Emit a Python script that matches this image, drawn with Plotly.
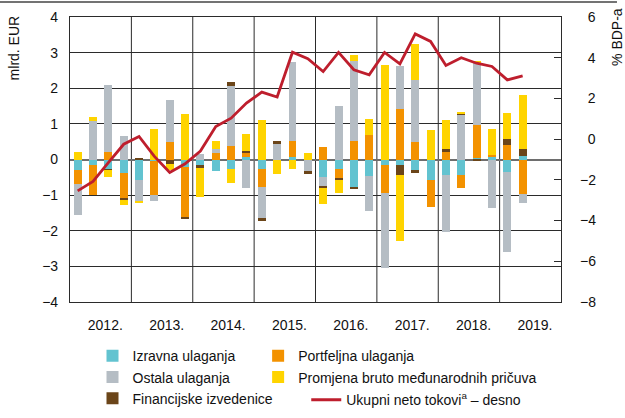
import plotly.graph_objects as go

# Quarterly financial-account flows, 2012Q1 - 2019Q2 (bn EUR, left axis)
years = ["2012.", "2013.", "2014.", "2015.", "2016.", "2017.", "2018.", "2019."]

izravna = [-0.29, -0.16, -0.27, -0.38,
           -0.57, -0.03, 0.00, -0.22,
           -0.18, -0.32, -0.27, 0.06,
           -0.26, 0.00, 0.07, 0.00,
           -0.49, -0.28, -0.78, -0.46,
           -0.16, -0.15, -0.29, -0.57,
           -0.43, -0.43, 0.03, 0.06,
           -0.35, 0.10]

portfeljna = [-0.39, -0.83, 0.22, -0.70,
              0.00, -0.97, 0.48, -1.42,
              0.00, 0.17, 0.39, 0.12,
              -0.52, 0.00, 0.44, 0.00,
              0.34, -0.26, 0.53, 0.69,
              -0.79, 1.43, 0.48, -0.75,
              0.22, -0.36, 0.94, 0.07,
              0.41, -0.96]

ostala = [-0.87, 1.07, 1.87, 0.66,
          -0.59, -0.17, 1.18, 0.00,
          0.16, 0.13, 1.66, -0.81,
          -0.87, 0.46, 2.22, -0.33,
          -0.26, 1.50, 2.24, -0.99,
          -2.09, 1.20, 1.74, 0.00,
          -1.61, 1.27, 1.74, -1.37,
          -2.24, -0.26]

financijske = [0.00, 0.00, -0.03, -0.07,
               0.05, 0.00, -0.14, -0.04,
               -0.05, 0.00, 0.12, 0.07,
               -0.08, 0.05, 0.00, -0.08,
               -0.04, -0.04, -0.05, 0.00,
               0.00, -0.28, -0.08, 0.00,
               0.08, 0.03, -0.05, 0.00,
               0.16, 0.20]

promjena = [0.22, 0.11, -0.18, -0.12,
            -0.06, 0.86, -0.16, 1.27,
            -0.81, 0.22, -0.40, 0.47,
            1.11, -0.40, -0.26, 0.19,
            -0.45, -0.37, 0.15, 0.45,
            2.66, -1.87, 1.02, 0.83,
            0.80, 0.04, 0.03, 0.72,
            0.73, 1.52]

# Total net flows, % of GDP (right axis)
ukupni = [-2.54, -2.08, -1.15, -0.25,
          0.13, -0.85, -1.64, -1.21,
          -0.58, 0.62, 1.03, 1.77,
          2.31, 2.07, 4.27, 3.95,
          3.32, 4.26, 3.41, 3.16,
          4.26, 3.70, 5.17, 4.80,
          3.62, 4.00, 3.73, 3.57,
          2.91, 3.11]

right_ticks = [-8, -6, -4, -2, 0, 2, 4, 6]

x = list(range(len(ukupni)))
n_years = len(years)

C_CYAN = "#62C3D0"
C_ORANGE = "#F39200"
C_GRAY = "#B5BDC4"
C_BROWN = "#6B4519"
C_YELLOW = "#FFD400"
C_RED = "#BE1E2D"
GRID = "#2b2b2b"

FONT = "Liberation Sans, Arial, sans-serif"
FS = 14


def right_label(v):
    # pad non-negative labels with a figure space so they line up on the right
    return ("\u2212" + str(abs(v))) if v < 0 else ("\u2007" + str(v))


fig = go.Figure()

bar_specs = [
    ("Izravna ulaganja", izravna, C_CYAN, "legend"),
    ("Portfeljna ulaganja", portfeljna, C_ORANGE, "legend2"),
    ("Ostala ulaganja", ostala, C_GRAY, "legend"),
    ("Financijske izvedenice", financijske, C_BROWN, "legend"),
    ("Promjena bruto međunarodnih pričuva", promjena, C_YELLOW, "legend2"),
]
rank = {"Izravna ulaganja": 1, "Ostala ulaganja": 2, "Financijske izvedenice": 3,
        "Portfeljna ulaganja": 1, "Promjena bruto međunarodnih pričuva": 2}
for name, vals, col, leg in bar_specs:
    fig.add_trace(go.Bar(
        x=x, y=vals, name=name, marker=dict(color=col, line=dict(width=0)),
        width=0.52, legend=leg, legendrank=rank[name], yaxis="y",
    ))

fig.add_trace(go.Scatter(
    x=x, y=ukupni, name="Ukupni neto tokovi<sup>a</sup> – desno",
    mode="lines", line=dict(color=C_RED, width=2.8), yaxis="y2", legend="legend3",
))

# Year separators
shapes = []
for k in range(1, n_years):
    shapes.append(dict(type="line", xref="x", yref="paper", x0=4 * k - 0.5, x1=4 * k - 0.5,
                       y0=0, y1=1, line=dict(color=GRID, width=1), layer="below"))
# Rule across the top of the figure
shapes.append(dict(type="line", xref="paper", yref="paper", x0=-0.1426, x1=1.114,
                   y0=1.0526, y1=1.0526, line=dict(color="#444", width=1.3)))

legend_common = dict(orientation="v", bgcolor="rgba(0,0,0,0)", borderwidth=0,
                     font=dict(family=FONT, size=FS, color="#111"),
                     xref="container", yref="container",
                     xanchor="left", yanchor="top", tracegroupgap=0, itemwidth=30)

fig.update_layout(
    width=625, height=418,
    margin=dict(l=70, r=64, t=17, b=116, autoexpand=False),
    paper_bgcolor="white", plot_bgcolor="white",
    barmode="relative", bargap=0,
    font=dict(family=FONT, size=FS, color="#111"),
    showlegend=True,
    legend=dict(x=0.148, y=0.186, **legend_common),
    legend2=dict(x=0.413, y=0.186, **legend_common),
    legend3=dict(x=0.49, y=0.081, **legend_common),
    xaxis=dict(range=[-0.5, 4 * n_years - 0.5], tickmode="array",
               tickvals=[4 * k + 1.8 for k in range(n_years)], ticktext=years,
               showgrid=False, zeroline=False, showline=True, linecolor=GRID,
               linewidth=1.2, mirror=True, ticks="", ticklabelstandoff=10,
               tickfont=dict(size=FS)),
    yaxis=dict(range=[-4, 4], dtick=1, showgrid=True, gridcolor=GRID, gridwidth=1,
               zeroline=True, zerolinecolor="#6e6e6e", zerolinewidth=1.6,
               showline=True, linecolor=GRID, linewidth=1.2, mirror=True,
               ticks="", ticklabelstandoff=8, tickfont=dict(size=FS)),
    yaxis2=dict(range=[-8, 6], tickmode="array", tickvals=right_ticks,
                ticktext=[right_label(v) for v in right_ticks],
                overlaying="y", side="right", showgrid=False,
                zeroline=False, showline=False, ticks="inside", ticklen=7,
                tickcolor=GRID, tickwidth=1, ticklabelstandoff=18, tickfont=dict(size=FS)),
    shapes=shapes,
    annotations=[
        dict(text="mlrd. EUR", xref="paper", yref="paper", x=-0.114, y=0.89,
             xanchor="center", yanchor="middle",
             textangle=-90, showarrow=False, font=dict(size=FS, family=FONT)),
        dict(text="% BDP-a", xref="paper", yref="paper", x=1.114, y=0.93,
             xanchor="center", yanchor="middle",
             textangle=-90, showarrow=False, font=dict(size=FS, family=FONT)),
    ],
)

fig.write_html("out.html")
